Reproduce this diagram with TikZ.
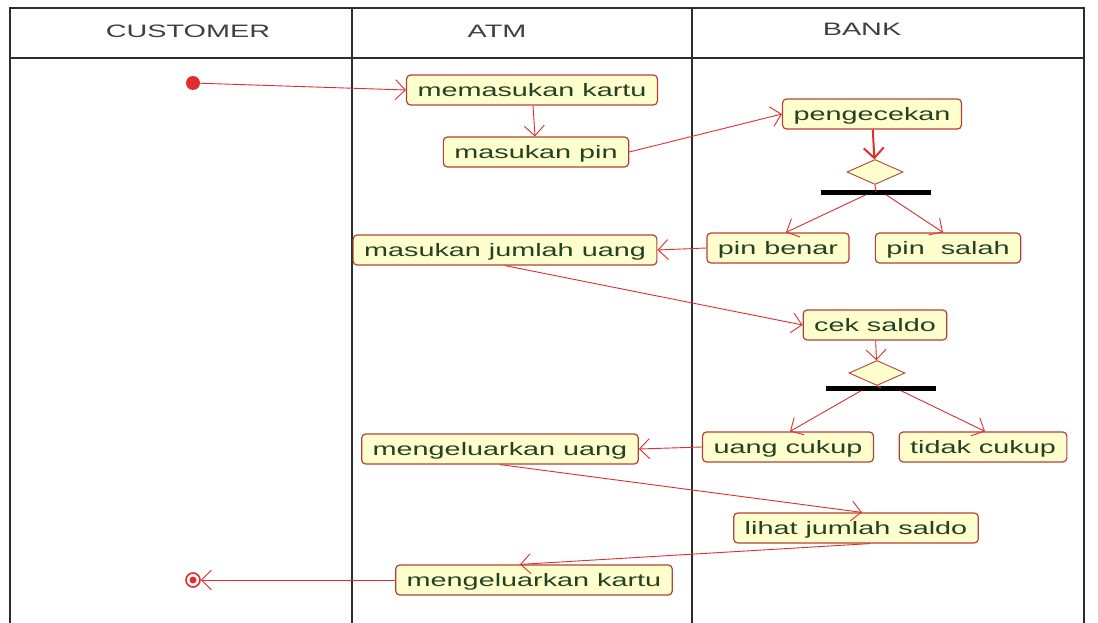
\documentclass[tikz,border=0pt]{standalone}
\usepackage{fontspec}
\setmainfont{Liberation Sans}
\newfontfamily\lanefont[FakeStretch=1.6]{Liberation Sans}
\usetikzlibrary{arrows.meta,shapes.geometric}

\definecolor{actfill}{RGB}{255,255,205}
\definecolor{actline}{RGB}{180,65,55}
\definecolor{flow}{RGB}{225,45,45}
\definecolor{acttext}{RGB}{35,65,35}
\definecolor{laneline}{RGB}{45,45,45}

\begin{document}
\begin{tikzpicture}[x=1pt,y=-1pt,
  activity/.style={draw=actline, line width=1.2pt, fill=actfill, rounded corners=4pt,
    inner xsep=11pt, inner ysep=0pt, minimum height=30pt, text height=15pt, text depth=2pt,
    text=acttext, font=\lanefont\fontsize{18}{20}\selectfont},
  choice/.style={diamond, draw=actline, line width=0.9pt, fill=actfill,
    minimum width=56pt, minimum height=25pt, inner sep=0pt},
  syncbar/.style={rectangle, fill=black, minimum width=110pt, minimum height=5pt, inner sep=0pt},
  flowto/.style={draw=flow, line width=0.9pt, -{Straight Barb[length=10pt,width=20pt]}},
  plainflow/.style={draw=flow, line width=0.9pt},
  lane/.style={draw=laneline, line width=1.6pt},
  lanehead/.style={font=\lanefont\fontsize{18}{20}\selectfont, text=black!75},
  startdot/.style={circle, fill=flow, minimum size=14pt, inner sep=0pt},
  enddot/.style={circle, draw=flow, line width=1.6pt, fill=white, minimum size=14pt, inner sep=0pt}]

\useasboundingbox (0,0) rectangle (1098,623);
\fill[white] (0,0) rectangle (1098,623);

% swimlane frame
\draw[lane] (10,623) -- (10,8) -- (1084,8) -- (1084,623);
\draw[lane] (10,58) -- (1084,58);
\draw[lane] (352,8) -- (352,623);
\draw[lane] (692,8) -- (692,623);

\node[lanehead] (hcust) at (188,31) {CUSTOMER};
\node[lanehead] (hatm) at (497,31) {ATM};
\node[lanehead] (hbank) at (862,29) {BANK};

% activities
\node[startdot] (start) at (193,83) {};
\node[activity] (mk) at (532,90) {memasukan kartu};
\node[activity] (mp) at (536,152) {masukan pin};
\node[activity] (cek) at (872,114) {pengecekan};
\node[choice] (d1) at (875,172) {};
\node[syncbar] (b1) at (876,192) {};
\node[activity] (pb) at (778,248) {pin benar};
\node[activity] (ps) at (948,248) {pin\ \ salah};
\node[activity] (mju) at (505,250) {masukan jumlah uang};
\node[activity] (cs) at (875,325) {cek saldo};
\node[choice] (d2) at (877,373) {};
\node[syncbar] (b2) at (881,388) {};
\node[activity] (uc) at (788,447) {uang cukup};
\node[activity] (tc) at (983,447) {tidak cukup};
\node[activity] (mu) at (500,449) {mengeluarkan uang};
\node[activity] (ljs) at (856,528) {lihat jumlah saldo};
\node[activity] (mkar) at (534,580) {mengeluarkan kartu};
\node[enddot] (end) at (193,580) {};
\fill[flow] (end.center) circle (3.5pt);

% transitions
\draw[flowto] (start) -- (mk.west);
\draw[flowto] (mk) -- (mp);
\draw[flowto] (mp.east) -- (cek.west);
\draw[flowto, line width=2pt] (cek) -- (d1);
\draw[plainflow] (d1.south) -- (b1.center);
\draw[flowto] ([xshift=-10pt]b1.south) -- ([xshift=8pt]pb.north);
\draw[flowto] ([xshift=10pt]b1.south) -- ([xshift=-5pt]ps.north);
\draw[flowto] (pb.west) -- (mju.east);
\draw[flowto] (mju.south) -- (cs.west);
\draw[flowto] (cs) -- (d2);
\draw[plainflow] (d2.south) -- (b2.center);
\draw[flowto] ([xshift=-20pt]b2.south) -- ([xshift=2pt]uc.north);
\draw[flowto] ([xshift=20pt]b2.south) -- ([xshift=2pt]tc.north);
\draw[flowto] (uc.west) -- (mu.east);
\draw[flowto] (mu.south) -- ([xshift=6pt]ljs.north);
\draw[flowto] ([xshift=14pt]ljs.south) -- ([xshift=-14pt]mkar.north);
\draw[flowto] (mkar.west) -- (end.east);
\end{tikzpicture}
\end{document}
